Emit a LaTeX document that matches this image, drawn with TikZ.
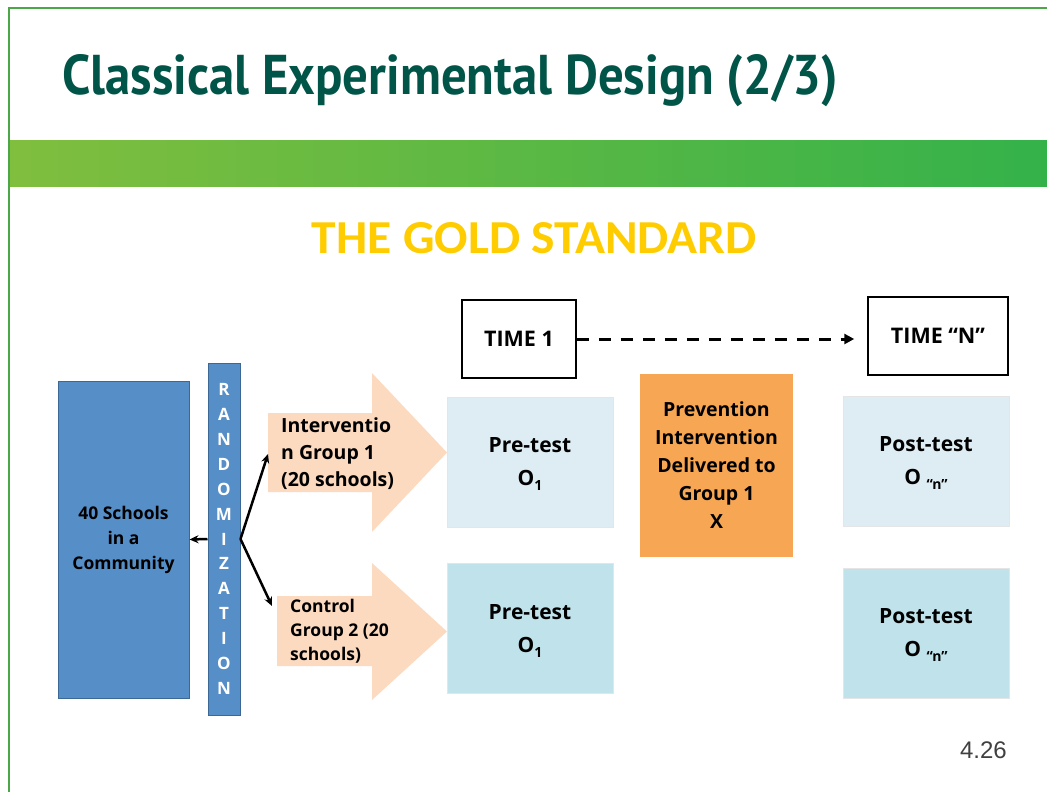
\documentclass[tikz,border=0pt]{standalone}
\usepackage{fontspec}
\setmainfont{Open Sans}
\newfontfamily\titlefont{PT Sans}
\newfontfamily\goldfont{Carlito}
\newfontfamily\pagefont{Liberation Sans}
\usetikzlibrary{arrows.meta,positioning,calc}
\definecolor{framegreen}{RGB}{76,167,72}
\definecolor{titleteal}{RGB}{0,84,72}
\definecolor{bandleft}{RGB}{128,190,62}
\definecolor{bandright}{RGB}{52,178,74}
\definecolor{gold}{RGB}{255,204,0}
\definecolor{boxblue}{RGB}{86,142,199}
\definecolor{boxblueline}{RGB}{60,104,150}
\definecolor{peach}{RGB}{252,218,192}
\definecolor{palecyan}{RGB}{222,237,244}
\definecolor{lightcyan}{RGB}{191,226,235}
\definecolor{prevorange}{RGB}{247,166,84}
\newcommand{\lowidx}[1]{\raisebox{-5pt}[0pt][0pt]{\fontsize{14}{14}\selectfont #1}}

\begin{document}
\begin{tikzpicture}[x=1pt, y=-1pt,
    block/.style={rectangle, fill=boxblue, draw=boxblueline, line width=1pt, inner sep=0pt},
    testbox/.style={rectangle, minimum width=166pt, minimum height=130pt, align=center, font=\fontsize{21}{33}\selectfont\bfseries, draw=black!10, line width=0.8pt},
    timebox/.style={rectangle, draw, line width=1.5pt, minimum height=78pt, font=\fontsize{21.5}{26}\selectfont\bfseries},
    grptext/.style={inner xsep=13pt, inner ysep=0pt, align=left, anchor=west},
    conn/.style={-{Stealth[length=9pt,width=8pt]}, line width=2.5pt},
    timeline/.style={-{Triangle[length=10pt,width=10pt]}, line width=3pt, dash pattern=on 12pt off 10pt}
]
    \useasboundingbox (0,0) rectangle (1047,792);

    % Slide frame and header
    \draw[framegreen, line width=2pt] (9,792) -- (9,8) -- (1047,8);
    \node[anchor=base west, inner sep=0pt, text=titleteal] (title) at (62,95) {\resizebox{776pt}{40pt}{\titlefont\bfseries Classical Experimental Design (2/3)}};
    \shade[left color=bandleft, right color=bandright] (10,140) rectangle (1047,186);
    \begin{scope}
        \clip (10,140) rectangle (1047,186);
        \foreach \gx in {40,180,330,470,610,760,900,1010}
            \draw[white, opacity=0.12, line width=3pt] (\gx,200) arc[start angle=180, end angle=0, x radius=28, y radius=50];
    \end{scope}

    % Gold standard heading
    \node[anchor=base, inner sep=0pt, text=gold] (gold) at (534.5,253) {\resizebox{445pt}{31pt}{\goldfont\bfseries THE GOLD STANDARD}};

    % Schools and randomization
    \node[block, minimum width=131pt, minimum height=317pt, align=center, font=\fontsize{17.5}{25}\selectfont\bfseries] (schools) at (123.5,539.5) {40 Schools\\in a\\Community};
    \node[block, minimum width=32pt, minimum height=352pt, text=white, align=center, font=\fontsize{17}{24.9}\selectfont\bfseries] (rand) at (224,539) {R\\A\\N\\D\\O\\M\\I\\Z\\A\\T\\I\\O\\N};

    % Group arrows
    \fill[peach] (268,413) -- (372,413) -- (372,373) -- (447,452.5) -- (372,532) -- (372,492) -- (268,492) -- cycle;
    \fill[peach] (277,596) -- (372,596) -- (372,563) -- (447,631.5) -- (372,700) -- (372,666) -- (277,666) -- cycle;
    \node[grptext, font=\fontsize{19.5}{27}\selectfont\bfseries] (int) at (268,454) {Interventio\\n Group 1\\(20 schools)};
    \node[grptext, font=\fontsize{17.5}{24}\selectfont\bfseries] (ctl) at (277,631) {Control\\Group 2 (20\\schools)};
    \coordinate (ctlin) at (272,606);

    \draw[conn] (rand.west) -- (schools.east);
    \draw[conn] (rand.east) -- (int.west);
    \draw[conn] (rand.east) -- (ctlin);

    % Observations
    \node[testbox, fill=palecyan] (pre1) at (530,462) {Pre-test\\O\lowidx{1}};
    \node[testbox, fill=lightcyan] (pre2) at (530,628.5) {Pre-test\\O\lowidx{1}};
    \node[rectangle, fill=prevorange, minimum width=153pt, minimum height=183pt, align=center, font=\fontsize{19.5}{28}\selectfont\bfseries] (prev) at (716.5,465.5) {Prevention\\Intervention\\Delivered to\\Group 1\\X};
    \node[testbox, fill=palecyan] (post1) at (926,461) {Post-test\\O \lowidx{“n”}};
    \node[testbox, fill=lightcyan] (post2) at (926,633) {Post-test\\O \lowidx{“n”}};

    % Time line
    \node[timebox, minimum width=114pt] (time1) at (519,339) {TIME 1};
    \node[timebox, minimum width=140pt] (timen) at (938,336) {TIME “N”};
    \draw[timeline, shorten >=13pt] (time1.east) -- (time1.east -| timen.west);

    \node[anchor=base east, inner sep=0pt, text=black!75, font=\pagefont\fontsize{24}{24}\selectfont] (pagenum) at (1007,758) {4.26};
\end{tikzpicture}
\end{document}
